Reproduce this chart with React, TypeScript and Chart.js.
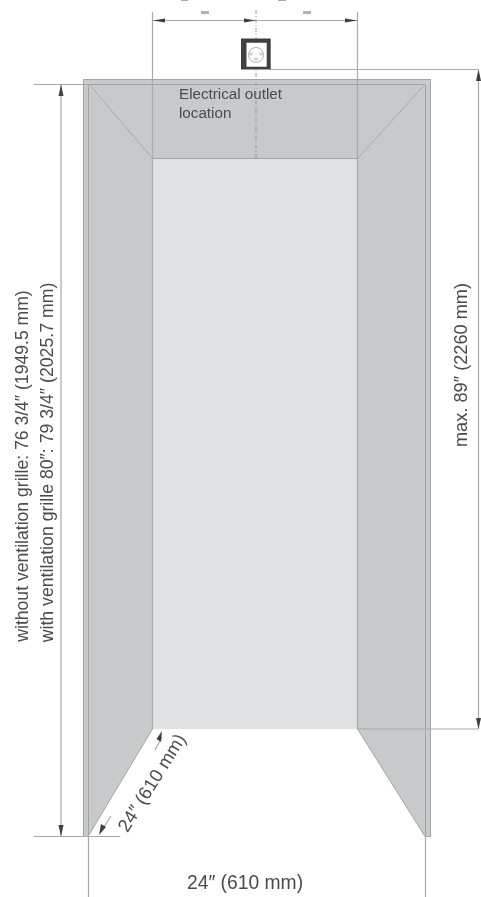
import React, { useEffect, useRef } from "react";
import { Chart, registerables } from "chart.js";

Chart.register(...registerables);

type P = [number, number];

const WIDTH = 481;
const HEIGHT = 897;

const leftWall: P[] = [[83.5, 79.5], [152.5, 158.5], [152.5, 729], [88, 836.5], [83.5, 836.5]];
const rightWall: P[] = [[430.5, 79.5], [357.5, 158.5], [357.5, 729], [425, 836.5], [430.5, 836.5]];
const ceiling: P[] = [[83.5, 79.5], [430.5, 79.5], [357.5, 158.5], [152.5, 158.5]];
const backWall: P[] = [[152.5, 158.5], [357.5, 158.5], [357.5, 729], [152.5, 729]];

const thinLines: P[][] = [
  [[83.5, 79.5], [430.5, 79.5], [430.5, 836.5], [425, 836.5]],
  [[83.5, 79.5], [83.5, 836.5], [88, 836.5]],
  [[89, 84.5], [425, 84.5]],
  [[89, 84.5], [152.5, 158.5]],
  [[425, 84.5], [357.5, 158.5]],
  [[88.5, 84.5], [88.5, 836.5]],
  [[425.5, 84.5], [425.5, 836.5]],
  [[152.5, 158.5], [357.5, 158.5]],
  [[88, 836.5], [152.5, 729]],
  [[425, 836.5], [357.5, 729]],
];

const dimensionLines: P[][] = [
  [[152.5, 12], [152.5, 729]],
  [[357.5, 12], [357.5, 729]],
  [[152.5, 20.5], [357.5, 20.5]],
  [[270, 69.5], [478.5, 69.5]],
  [[478.5, 69.5], [478.5, 729]],
  [[357.5, 729], [478.5, 729]],
  [[34, 84.5], [89, 84.5]],
  [[61, 84.5], [61, 836.5]],
  [[34, 836.5], [120, 836.5]],
  [[88.5, 836.5], [88.5, 897]],
  [[425.5, 836.5], [425.5, 897]],
  [[155, 750], [162, 737]],
  [[100, 833], [111, 816]],
];

const centerLine: P[] = [[256, 10], [256, 158]];

const arrowHeads: P[][] = [
  [[152.5, 20.5], [165, 18.5], [165, 22.5]],
  [[256, 20.5], [244, 18.5], [244, 22.5]],
  [[357.5, 20.5], [345, 18.5], [345, 22.5]],
  [[478.5, 69.5], [476, 81], [481, 81]],
  [[478.5, 729], [476, 718], [481, 718]],
  [[61, 84.5], [58.5, 96], [63.5, 96]],
  [[61, 836.5], [58.5, 825], [63.5, 825]],
  [[162, 731], [156.5, 739], [161, 742]],
  [[99, 835], [101, 824], [106, 827]],
];

const equalSigns: P[][] = [
  [[201, 12.5], [209, 12.5]],
  [[303, 12.5], [311, 12.5]],
];

const clippedGlyphs: P[][] = [
  [[181, 0.5], [188, 0.5]],
  [[278, 0.5], [286, 0.5]],
];

const outletOuter: P[] = [[241, 38.5], [270.7, 38.5], [270.7, 69.5], [241, 69.5]];
const outletInner: P[] = [[246.5, 42.7], [266.7, 42.7], [266.7, 66.7], [246.5, 66.7]];
const outletFace: P[] = [[256, 55]];
const outletPins: P[] = [[251, 54], [261, 54], [256, 59]];

const labels = [
  { text: "Electrical outlet", x: 179, y: 99, size: 15.2, rotation: 0, align: "left" },
  { text: "location", x: 179, y: 117.5, size: 15.2, rotation: 0, align: "left" },
  { text: "without ventilation grille: 76 3/4\u2033 (1949.5 mm)", x: 28, y: 466, size: 17.6, rotation: -90, align: "center" },
  { text: "with ventilation grille 80\u2033: 79 3/4\u2033 (2025.7 mm)", x: 52.5, y: 462.5, size: 17.7, rotation: -90, align: "center" },
  { text: "max. 89\u2033 (2260 mm)", x: 467, y: 365, size: 18.2, rotation: -90, align: "center" },
  { text: "24\u2033 (610 mm)", x: 157, y: 786, size: 18.5, rotation: -58, align: "center" },
  { text: "24\u2033 (610 mm)", x: 245, y: 889, size: 19.3, rotation: 0, align: "center" },
];

const GREY_FILL = "#c8c9cb";
const LIGHT_FILL = "#e0e1e3";
const EDGE = "#a3a4a6";
const DIM = "#a9aaac";
const DARK = "#3f4042";
const TEXT = "#4a4b4d";

const pts = (a: P[]) => a.map(([x, y]) => ({ x, y }));

const polygon = (a: P[], color: string) => ({
  data: pts(a),
  showLine: true,
  borderWidth: 0,
  borderColor: color,
  backgroundColor: color,
  fill: "shape",
  pointRadius: 0,
  tension: 0,
});
const stroke = (a: P[], color: string, width: number, dash: number[] = []) => ({
  data: pts(a),
  showLine: true,
  borderWidth: width,
  borderColor: color,
  borderDash: dash,
  fill: false,
  pointRadius: 0,
  tension: 0,
});
const marker = (a: P[], radius: number, width: number, color: string) => ({
  data: pts(a),
  showLine: false,
  pointRadius: radius,
  pointBorderWidth: width,
  pointBorderColor: color,
  pointBackgroundColor: "rgba(255,255,255,0)",
  pointStyle: "circle",
});

const labelPlugin = {
  id: "labels",
  afterDatasetsDraw(chart: any) {
    const { ctx, scales } = chart;
    for (const l of labels) {
      ctx.save();
      ctx.translate(scales.x.getPixelForValue(l.x), scales.y.getPixelForValue(l.y));
      ctx.rotate((l.rotation * Math.PI) / 180);
      ctx.font = `${l.size}px "Liberation Sans"`;
      ctx.fillStyle = TEXT;
      ctx.textAlign = l.align;
      ctx.textBaseline = "alphabetic";
      ctx.fillText(l.text, 0, 0);
      ctx.restore();
    }
  },
};

export default function App() {
  const ref = useRef<HTMLCanvasElement>(null);
  useEffect(() => {
    document.body.style.margin = "0";
    const layers: any[] = [
      polygon(backWall, LIGHT_FILL),
      polygon(leftWall, GREY_FILL),
      polygon(rightWall, GREY_FILL),
      polygon(ceiling, GREY_FILL),
      ...thinLines.map((l) => stroke(l, EDGE, 1)),
      ...dimensionLines.map((l) => stroke(l, DIM, 1.2)),
      stroke(centerLine, "#9b9c9e", 1, [4, 2, 1, 2]),
      ...arrowHeads.map((a) => polygon(a, DARK)),
      ...equalSigns.map((l) => stroke(l, "#b0b1b3", 3)),
      ...clippedGlyphs.map((l) => stroke(l, "#a9aaac", 1)),
      polygon(outletOuter, DARK),
      polygon(outletInner, "#ffffff"),
      marker(outletFace, 7.5, 0.7, "#8f9092"),
      marker(outletPins, 1.2, 0.6, "#8f9092"),
    ];
    const datasets = layers.map((d, i) => ({ ...d, order: -i, clip: false }));
    const chart = new Chart(ref.current!, {
      type: "scatter",
      data: { datasets },
      options: {
        animation: false,
        responsive: false,
        devicePixelRatio: 1,
        layout: { padding: 0, autoPadding: false },
        plugins: { legend: { display: false }, tooltip: { enabled: false } },
        scales: {
          x: { type: "linear", min: 0, max: WIDTH, display: false },
          y: { type: "linear", min: 0, max: HEIGHT, reverse: true, display: false },
        },
      },
      plugins: [labelPlugin],
    } as any);
    return () => chart.destroy();
  }, []);
  return <canvas ref={ref} width={WIDTH} height={HEIGHT} style={{ display: "block", filter: "blur(0.4px)" }} />;
}
